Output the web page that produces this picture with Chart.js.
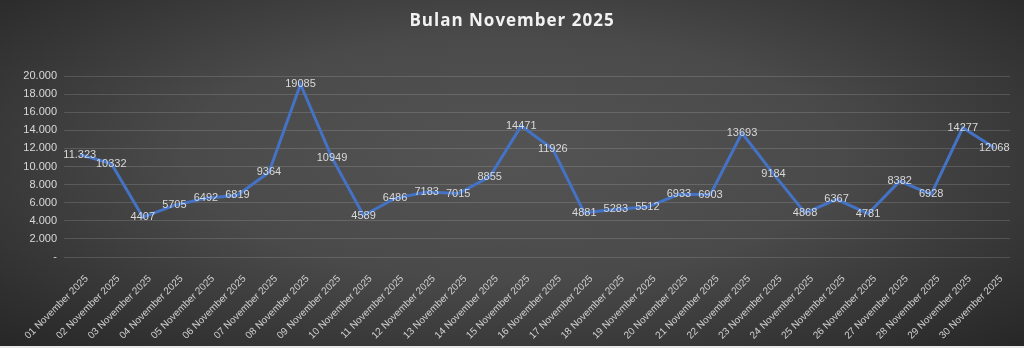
<!DOCTYPE html>
<html>
<head>
<meta charset="utf-8">
<script src="https://cdn.jsdelivr.net/npm/chart.js@4"></script>
<style>
  html, body { margin: 0; padding: 0; }
  body {
    width: 1024px; height: 348px; overflow: hidden;
    background: radial-gradient(ellipse farthest-corner at 50% 45%, #545454 0%, #4a4a4a 45%, #262626 100%);
  }
  #wrap { position: relative; width: 1024px; height: 346px; border-bottom: 2px solid #e8e8e8; }
</style>
</head>
<body>
<div id="wrap"><canvas id="chart" width="1024" height="346"></canvas></div>
<script>
// tanggal (kategori)
const days = [];
for (let d = 1; d <= 30; d++) days.push(String(d).padStart(2, '0') + ' November 2025');

// nilai harian
const values = [11323, 10332, 4407, 5705, 6492, 6819, 9364, 19085, 10949, 4589,
                6486, 7183, 7015, 8855, 14471, 11926, 4881, 5283, 5512, 6933,
                6903, 13693, 9184, 4868, 6367, 4781, 8382, 6928, 14277, 12068];

const yTicks = [0, 2000, 4000, 6000, 8000, 10000, 12000, 14000, 16000, 18000, 20000];

const titleText = 'Bulan November 2025';

function fmt(v) {
    return String(v).replace(/\B(?=(\d{3})+(?!\d))/g, '.');
}

// judul + label data di tengah titik
const drawTexts = {
    id: 'drawTexts',
    afterDatasetsDraw(chart) {
        const ctx = chart.ctx;
        const meta = chart.getDatasetMeta(0);
        ctx.save();
        ctx.font = '11px "Liberation Sans", Arial, sans-serif';
        ctx.fillStyle = '#d9d9d9';
        ctx.textAlign = 'center';
        ctx.textBaseline = 'middle';
        meta.data.forEach((pt, i) => {
            const txt = i === 0 ? fmt(values[i]) : String(values[i]);
            ctx.fillText(txt, pt.x, pt.y);
        });

        ctx.font = 'bold 17px "Open Sans", sans-serif';
        ctx.fillStyle = '#f2f2f2';
        ctx.letterSpacing = '1px';
        ctx.fillText(titleText, 512, 21);
        ctx.restore();
    }
};

new Chart(document.getElementById('chart').getContext('2d'), {
    type: 'line',
    data: {
        labels: days,
        datasets: [{
            data: values,
            borderColor: '#4472c4',
            borderWidth: 3,
            pointRadius: 0,
            tension: 0,
            fill: false
        }]
    },
    options: {
        responsive: false,
        animation: false,
        layout: { padding: { left: 0, right: 14, top: 76, bottom: 0 } },
        plugins: {
            legend: { display: false },
            tooltip: { enabled: false },
            title: { display: false }
        },
        scales: {
            x: {
                offset: true,
                grid: { display: false },
                border: { display: false },
                ticks: {
                    color: '#d0d0d0',
                    font: { family: '"Liberation Sans", Arial, sans-serif', size: 10 },
                    minRotation: 45,
                    maxRotation: 45,
                    autoSkip: false,
                    padding: 8,
                    labelOffset: 7
                },
                afterFit(scale) { scale.height = 89; }
            },
            y: {
                min: 0,
                max: 20000,
                afterBuildTicks(scale) { scale.ticks = yTicks.map(v => ({ value: v })); },
                grid: { color: 'rgba(255,255,255,0.14)', lineWidth: 1, drawTicks: false },
                border: { display: false },
                ticks: {
                    color: '#d9d9d9',
                    font: { family: '"Liberation Sans", Arial, sans-serif', size: 11 },
                    padding: 7,
                    callback: v => v === 0 ? '-' : fmt(v)
                },
                afterFit(scale) { scale.width = 64; }
            }
        }
    },
    plugins: [drawTexts]
});
</script>
</body>
</html>
